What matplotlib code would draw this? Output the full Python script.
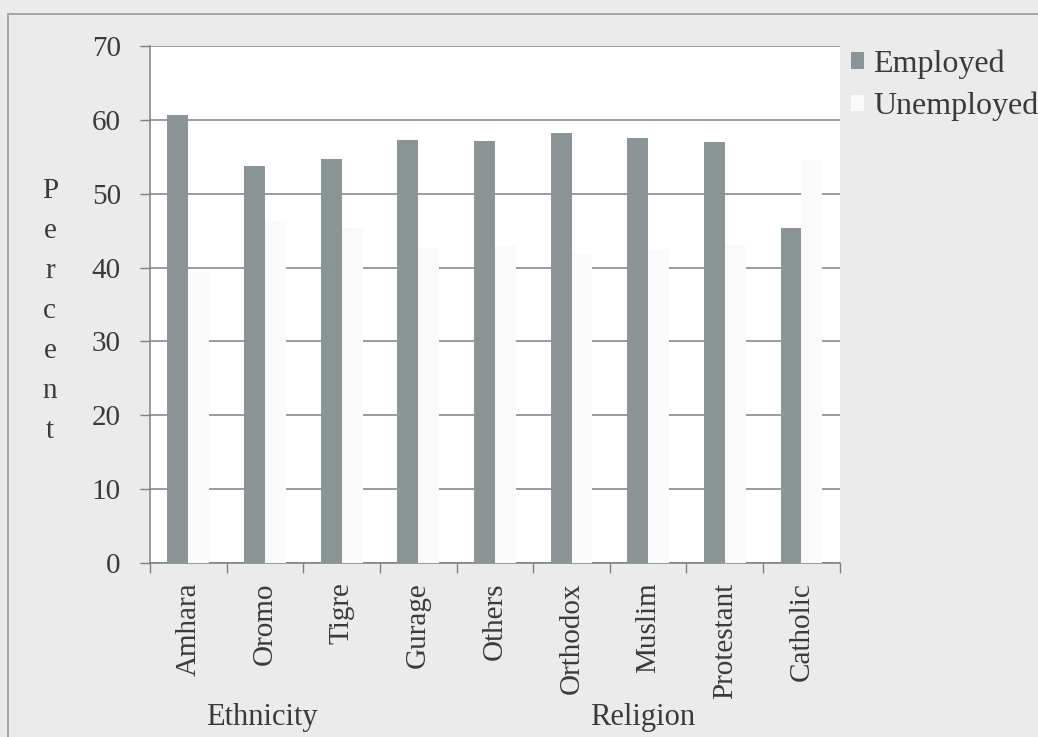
import numpy as np
import matplotlib
matplotlib.use("Agg")
import matplotlib.pyplot as plt
from matplotlib.patches import Rectangle

# employment by ethnicity and religion (percent)
categories = ["Amhara", "Oromo", "Tigre", "Gurage", "Others",
              "Orthodox", "Muslim", "Protestant", "Catholic"]
employed = [60.6, 53.7, 54.7, 57.3, 57.1, 58.2, 57.5, 57.0, 45.4]
unemployed = [39.4, 46.3, 45.3, 42.7, 42.9, 41.8, 42.5, 43.0, 54.6]
groups = ["Ethnicity", "Religion"]

plt.rcParams['font.family'] = ['Liberation Serif', 'DejaVu Serif']
txt = '#3a3a3a'
grid_c = '#808080'

fig = plt.figure(figsize=(10.38, 7.37), dpi=100, facecolor='#ebebeb')
ax = fig.add_axes([0.1445, 0.2361, 0.8090 - 0.1445, 0.9376 - 0.2361])
ax.set_facecolor('white')

x = np.arange(len(categories))
w = 0.273
b1 = ax.bar(x - w / 2, employed, w, color='#8c9595', zorder=3, label='Employed')
b2 = ax.bar(x + w / 2, unemployed, w, color='#fafafa', zorder=3, label='Unemployed')

ax.set_xlim(-0.5, len(categories) - 0.5)
ax.set_ylim(0, 70)
ax.set_yticks(np.arange(0, 71, 10))
ax.yaxis.grid(True, color=grid_c, linewidth=1.1, zorder=1)
ax.set_axisbelow(True)

# category boundaries as ticks, names on minor ticks at the centres
ax.set_xticks(np.arange(-0.5, len(categories), 1.0))
ax.set_xticklabels([])
ax.set_xticks(x, minor=True)
ax.set_xticklabels(categories, minor=True, rotation=90, fontsize=21, color=txt)
ax.tick_params(axis='x', which='major', direction='out', length=7, color=grid_c, width=1)
ax.tick_params(axis='x', which='minor', length=0, pad=14)
ax.tick_params(axis='y', direction='out', length=7, color=grid_c, width=1,
               labelsize=21, labelcolor=txt, pad=14)

for s in ['top', 'right']:
    ax.spines[s].set_visible(False)
for s in ['left', 'bottom']:
    ax.spines[s].set_color(grid_c)
    ax.spines[s].set_linewidth(1.1)

# vertical stacked axis title
fig.text(0.048, 0.578, "\n".join("Percent"), ha='center', va='center',
         fontsize=21, color=txt, linespacing=1.7)

fig.text(262 / 1038, 0.027, groups[0], ha='center', va='center', fontsize=22, color=txt)
fig.text(643 / 1038, 0.027, groups[1], ha='center', va='center', fontsize=22, color=txt)

fig.legend(handles=[b1, b2], loc='upper left', bbox_to_anchor=(0.792, 0.972),
           frameon=False, fontsize=23, handlelength=0.4, handleheight=0.4,
           handletextpad=0.3, labelspacing=0.4, labelcolor=txt)

# outer frame of the chart area
fig.patches.append(Rectangle((8 / 1038, -0.1), 1.2, 1 - 14 / 737 + 0.1,
                             transform=fig.transFigure, fill=False,
                             edgecolor='#9a9a9a', linewidth=1.2))

plt.savefig('out.png', dpi=100, facecolor=fig.get_facecolor())
